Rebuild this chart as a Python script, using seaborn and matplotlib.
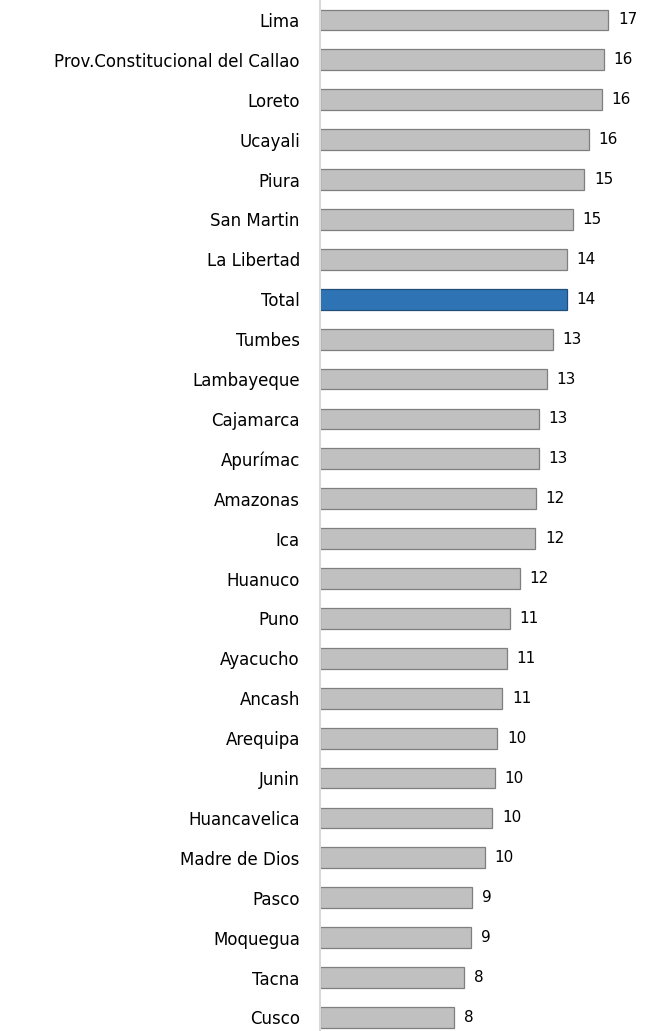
import pandas as pd
import matplotlib
matplotlib.use('Agg')
import matplotlib.pyplot as plt
import seaborn as sns

# Regiones y valores (%)
regiones = ['Lima', 'Prov.Constitucional del Callao', 'Loreto', 'Ucayali', 'Piura',
            'San Martin', 'La Libertad', 'Total', 'Tumbes', 'Lambayeque', 'Cajamarca',
            'Apurímac', 'Amazonas', 'Ica', 'Huanuco', 'Puno', 'Ayacucho', 'Ancash',
            'Arequipa', 'Junin', 'Huancavelica', 'Madre de Dios', 'Pasco', 'Moquegua',
            'Tacna', 'Cusco']
valores = [16.63, 16.38, 16.25, 15.52, 15.25, 14.58, 14.23, 14.23, 13.42, 13.08, 12.62,
           12.62, 12.45, 12.42, 11.54, 10.96, 10.80, 10.52, 10.23, 10.10, 9.94, 9.52,
           8.79, 8.71, 8.32, 7.75]

df = pd.DataFrame({'region': regiones, 'valor': valores})

sns.set_theme(style='white')
plt.rcParams['font.family'] = ['DejaVu Sans']

fig = plt.figure(figsize=(6.54, 10.31), dpi=100)
ax = fig.add_axes([320 / 654, 0, 334 / 654, 1])

colores = ['#2e74b5' if r == 'Total' else '#c0c0c0' for r in regiones]
sns.barplot(data=df, x='valor', y='region', hue='region', palette=colores,
            legend=False, width=0.52, ax=ax, saturation=1)

for i, p in enumerate(ax.patches):
    p.set_edgecolor('#1f4e79' if regiones[i] == 'Total' else '#7f7f7f')
    p.set_linewidth(0.9)

for i, v in enumerate(valores):
    ax.text(v + 0.55, i, f'{round(v):.0f}', va='center', ha='left',
            fontsize=11, color='#000000')

ax.set_xlim(0, 334 / 17.335)
ax.set_ylim(25.34, -0.5)
ax.set_xlabel('')
ax.set_ylabel('')
ax.set_xticks([])
ax.tick_params(axis='y', length=0, pad=14.5, labelsize=12, labelcolor='#000000')
for s in ['top', 'right', 'bottom']:
    ax.spines[s].set_visible(False)
ax.spines['left'].set_color('#d9d9d9')
ax.spines['left'].set_linewidth(1.5)

fig.savefig('out.png', dpi=100)
